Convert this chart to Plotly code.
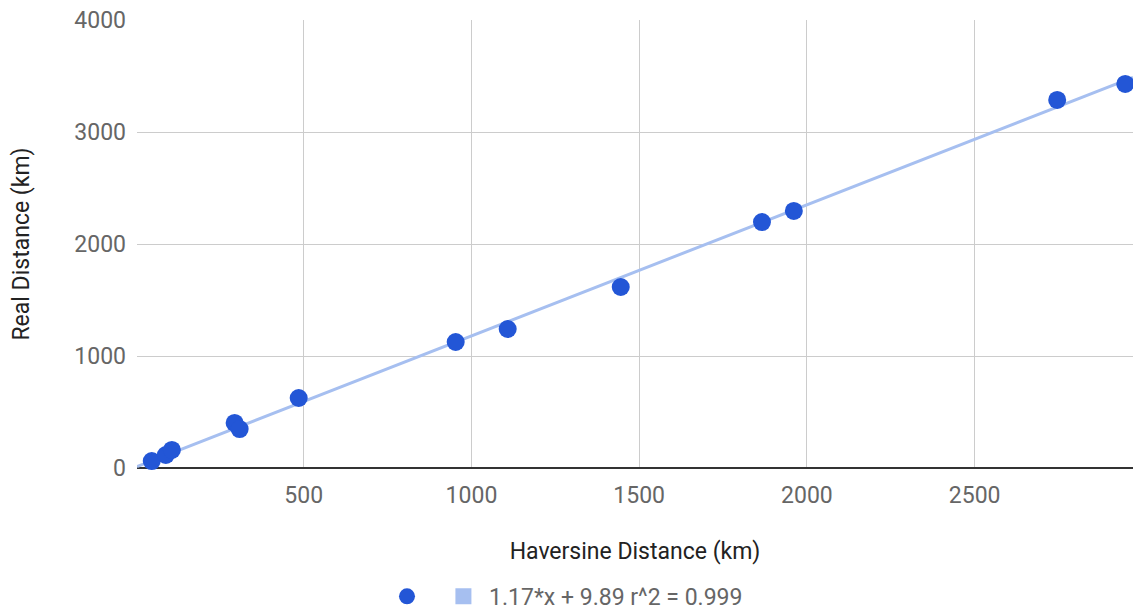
import plotly.graph_objects as go

# Data
haversine_km = [47, 89, 107, 294, 309, 485, 953, 1108, 1445, 1866, 1961, 2746, 2949]
real_km = [62, 116, 161, 402, 348, 625, 1125, 1241, 1616, 2196, 2295, 3286, 3429]
slope = 1.17
intercept = 9.89
r2 = 0.999
x_ticks = [500, 1000, 1500, 2000, 2500]
y_ticks = [0, 1000, 2000, 3000, 4000]
x_range = [3, 2972]
y_range = [0, 4000]

trend_x = x_range
trend_y = [slope * v + intercept for v in trend_x]
trend_label = f"{slope}*x + {intercept} r^2 = {r2}"

point_color = "#2356d6"
trend_color = "#a6bff0"

fig = go.Figure()
fig.add_trace(go.Scatter(
    x=trend_x, y=trend_y, mode="lines",
    line=dict(color=trend_color, width=3),
    showlegend=False, hoverinfo="skip",
))
fig.add_trace(go.Scatter(
    x=haversine_km, y=real_km, mode="markers",
    marker=dict(color=point_color, size=18, line=dict(width=0)),
    name="\u00a0\u00a0", cliponaxis=False,
))
fig.add_trace(go.Scatter(
    x=[None], y=[None], mode="markers",
    marker=dict(color=trend_color, size=20, symbol="square"),
    name="\u00a0" + trend_label,
))

fig.update_layout(
    width=1133, height=611,
    margin=dict(l=137, r=0, t=20, b=143),
    plot_bgcolor="white", paper_bgcolor="white",
    font=dict(family="Roboto, Arial, sans-serif", size=23, color="#666"),
    legend=dict(
        orientation="h", x=0.251, xanchor="left",
        yref="container", y=0.024, yanchor="middle",
        font=dict(size=23, color="#666"), itemsizing="trace",
        tracegroupgap=0,
    ),
    xaxis=dict(
        range=x_range, tickvals=x_ticks, showgrid=True, gridcolor="#cccccc",
        gridwidth=1, zeroline=False, showline=False, ticks="",
        ticklabelstandoff=11, automargin=False,
        tickfont=dict(size=23, color="#666"),
        title=dict(text="Haversine Distance (km)", standoff=34,
                   font=dict(size=23, color="#222")),
    ),
    yaxis=dict(
        range=y_range, tickvals=y_ticks, showgrid=True, gridcolor="#cccccc",
        gridwidth=1, zeroline=True, zerolinecolor="#333333", zerolinewidth=2,
        showline=False, ticks="", ticklabelstandoff=10, automargin=False,
        tickfont=dict(size=23, color="#666"),
        title=dict(text="Real Distance (km)", standoff=38,
                   font=dict(size=23, color="#222")),
    ),
)

fig.write_html("out.html")
